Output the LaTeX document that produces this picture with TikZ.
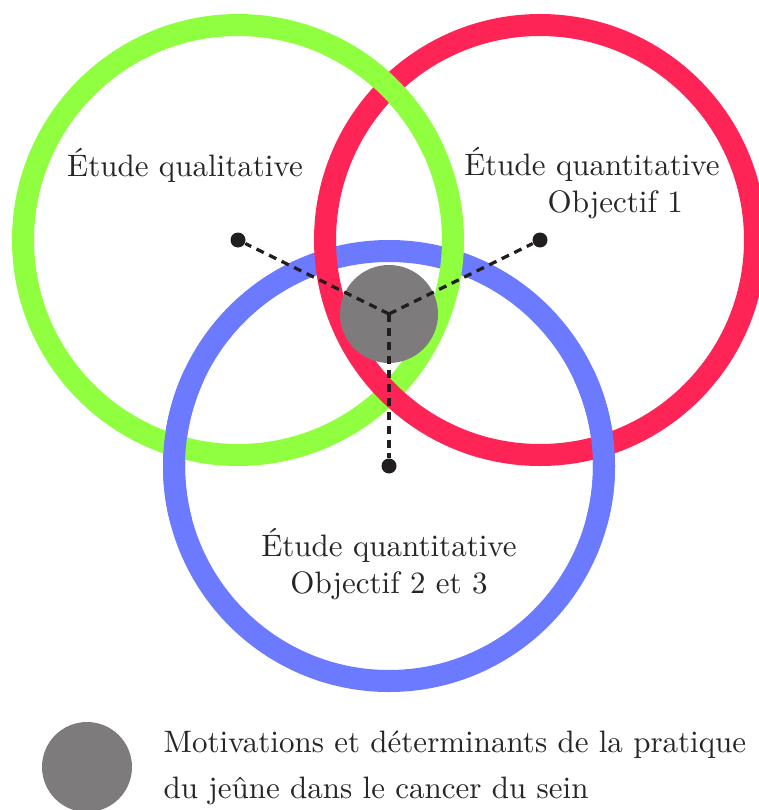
\documentclass[tikz,border=0pt]{standalone}
\usetikzlibrary{positioning}
\definecolor{ringgreen}{RGB}{143,255,63}
\definecolor{ringred}{RGB}{255,36,86}
\definecolor{ringblue}{RGB}{107,122,255}
\definecolor{coregray}{RGB}{125,123,124}
\definecolor{dotblack}{RGB}{34,30,31}
\newcommand\pxl{0.3226pt}
\begin{document}
\begin{tikzpicture}[x=\pxl,y=-\pxl,
    ring/.style={line width=7.1pt},
    dot/.style={circle,fill=dotblack,inner sep=0pt,minimum size=15*\pxl},
    core/.style={circle,fill=coregray,inner sep=0pt,minimum size=98*\pxl},
    link/.style={dotblack,line width=1.05pt,dash pattern=on 2.6pt off 1.9pt},
    label/.style={text=black!85,inner sep=0pt,align=center}]
  \useasboundingbox (0,0) rectangle (758,810);

  \coordinate (cQual) at (238,240);
  \coordinate (cObj1) at (540,240);
  \coordinate (cObj23) at (389,466);

  % three rings, woven
  \draw[ring,ringblue] (cObj23) circle[radius=215];
  \draw[ring,ringgreen] (cQual) circle[radius=215];
  \draw[ring,ringred] (cObj1) circle[radius=215];
  \draw[ring,ringgreen] (cQual) ++(-65:215) arc[start angle=-65,end angle=-25,radius=215];
  \draw[ring,ringblue] (cObj23) ++(165:215) arc[start angle=165,end angle=205,radius=215];
  \draw[ring,ringblue] (cObj23) ++(-25:215) arc[start angle=-25,end angle=15,radius=215];

  \node[core] (core) at (389,314) {};
  \node[dot] (dQual) at (cQual) {};
  \node[dot] (dObj1) at (cObj1) {};
  \node[dot] (dObj23) at (cObj23) {};
  \draw[link] (core.center) -- (dQual);
  \draw[link] (core.center) -- (dObj1);
  \draw[link] (core.center) -- (dObj23);

  \node[label] (qual) at (185,165) {Étude qualitative};
  \node[label] (obj1) at (592,183) {Étude quantitative\\\hspace*{15pt}Objectif 1};
  \node[label] (obj23) at (389,564) {Étude quantitative\\Objectif 2 et 3};

  % legend
  \node[core,minimum size=90*\pxl] (legdisk) at (87,767) {};
  \node[label,align=left,anchor=west] (legtext) at (163,768)
    {Motivations et déterminants de la pratique\\[3pt]du jeûne dans le cancer du sein};
\end{tikzpicture}
\end{document}
